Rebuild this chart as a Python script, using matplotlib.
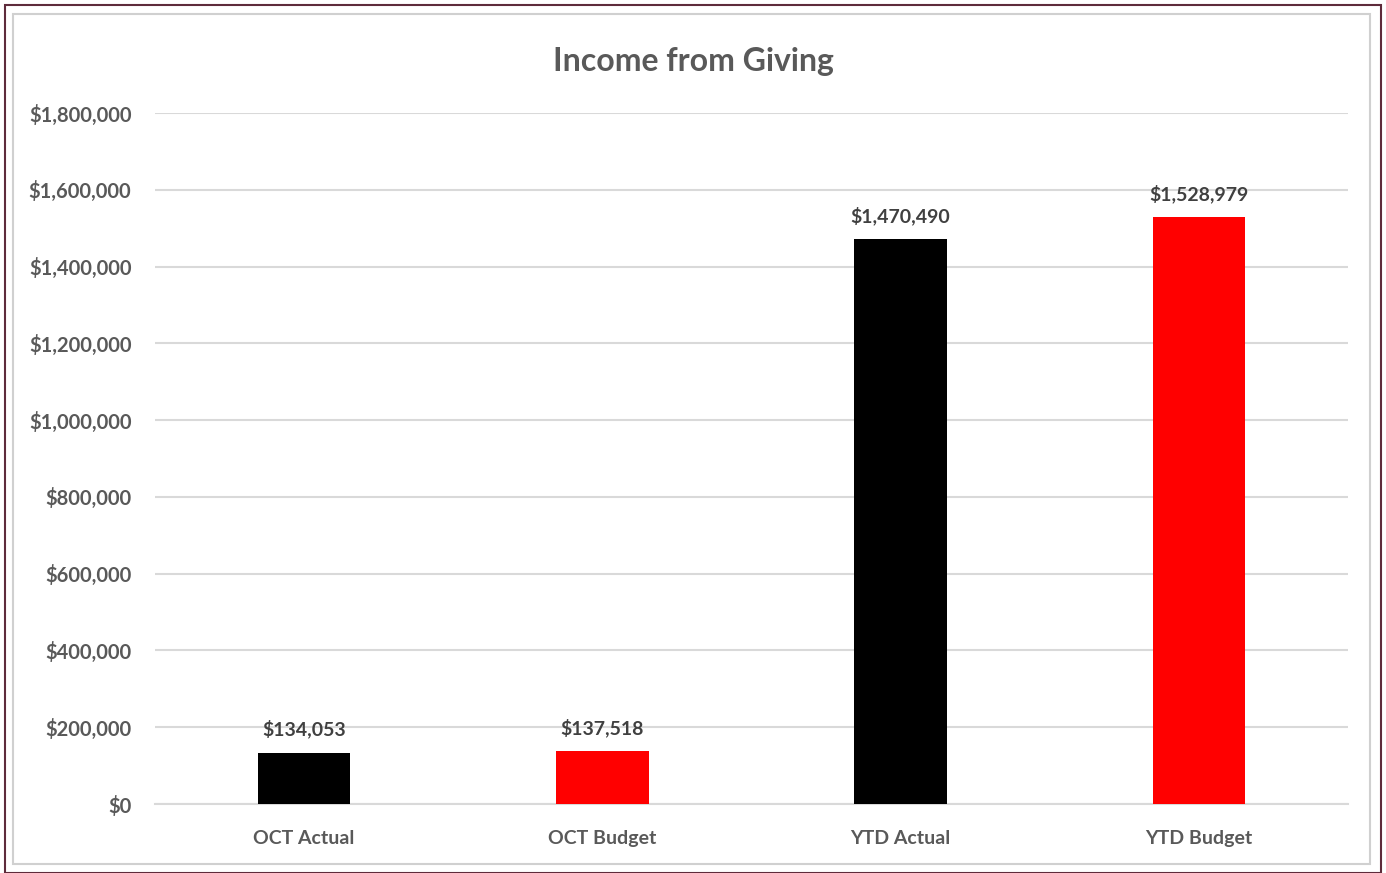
import matplotlib.pyplot as plt
from matplotlib.patches import Rectangle
from matplotlib.ticker import FuncFormatter

categories = ["OCT Actual", "OCT Budget", "YTD Actual", "YTD Budget"]
values = [134053, 137518, 1470490, 1528979]
colors = ["#000000", "#ff0000", "#000000", "#ff0000"]

plt.rcParams['font.family'] = ['Lato', 'DejaVu Sans']

W, H = 1386, 873
fig = plt.figure(figsize=(W / 100, H / 100), dpi=100)

# frame lines around the chart
fig.patches.append(Rectangle((5 / W, 0), 1376 / W, 1 - 5 / H, transform=fig.transFigure,
                             fill=False, edgecolor="#5e2b3b", linewidth=1.5))
fig.patches.append(Rectangle((13 / W, 9 / H), 1357 / W, 1 - 23 / H, transform=fig.transFigure,
                             fill=False, edgecolor="#d0d0d0", linewidth=1.5))

ax = fig.add_axes([155 / W, 69 / H, 1193 / W, 691 / H])
x = range(len(categories))
bars = ax.bar(x, values, width=0.31, color=colors, zorder=3)

ax.set_ylim(0, 1800000)
ax.set_yticks(range(0, 1800001, 200000))
ax.yaxis.set_major_formatter(FuncFormatter(lambda v, p: f"${v:,.0f}"))
ax.set_xlim(-0.5, len(categories) - 0.5)
ax.set_xticks(list(x))
ax.set_xticklabels(categories)

ax.grid(axis="y", color="#d9d9d9", linewidth=1.5, zorder=0)
for s in ["top", "right", "left"]:
    ax.spines[s].set_visible(False)
ax.spines["bottom"].set_color("#d9d9d9")
ax.spines["bottom"].set_linewidth(1.5)
ax.tick_params(axis="y", length=0, labelsize=14.5, labelcolor="#595959", pad=17)
ax.tick_params(axis="x", length=0, labelsize=14, labelcolor="#595959", pad=19)
for lab in ax.get_xticklabels() + ax.get_yticklabels():
    lab.set_fontweight("bold")

for b, v in zip(bars, values):
    ax.annotate(f"${v:,}", (b.get_x() + b.get_width() / 2, v), xytext=(0, 10),
                textcoords="offset points", ha="center", va="bottom",
                fontsize=14, fontweight="bold", color="#404040")

fig.text(693 / W, 1 - 62 / H, "Income from Giving", ha="center", va="center",
         fontsize=23, fontweight="bold", color="#595959")

fig.savefig("out.png", dpi=100)
